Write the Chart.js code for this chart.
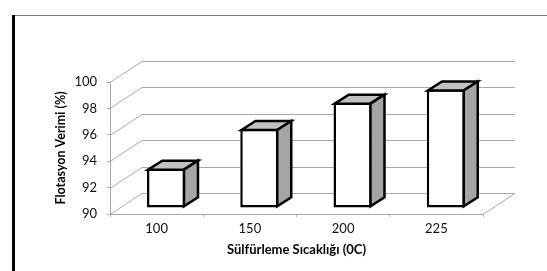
<!DOCTYPE html>
<html>
<head>
<meta charset="utf-8">
<script src="https://cdn.jsdelivr.net/npm/chart.js@4/dist/chart.umd.min.js"></script>
<style>
  html, body { margin: 0; padding: 0; background: #fff; }
  #wrap { position: relative; width: 547px; height: 271px; overflow: hidden; }
  #frame-left { position: absolute; left: 12px; top: 15px; width: 3px; height: 256px; background: #000; }
  #frame-top { position: absolute; left: 15px; top: 15px; width: 532px; height: 1px; background: #808080; }
  canvas { position: absolute; left: 0; top: 0; }
</style>
</head>
<body>
<div id="wrap">
  <canvas id="chart" width="547" height="271"></canvas>
  <div id="frame-left"></div>
  <div id="frame-top"></div>
</div>
<script>
const categories = ['100', '150', '200', '225']
const verim = [93, 96, 98, 99]
const yTicks = [90, 92, 94, 96, 98, 100]

const FONT = "Lato, 'Open Sans', sans-serif"
const GRID = '#a9a9a9'
// 3d look: wall depth, bar offset inside the depth, bar depth
const WALL = { dx: 32, dy: 21 }
const SHIFT = { dx: 9.5, dy: -6 }
const BAR = { dx: 14, dy: 9 }

const depth = {
  id: 'depth',
  beforeDatasetsDraw(chart) {
    const { ctx, chartArea: a, scales: { y } } = chart
    ctx.save()
    ctx.strokeStyle = GRID
    ctx.lineWidth = 1
    y.ticks.forEach(t => {
      const py = Math.round(y.getPixelForValue(t.value)) + 0.5
      ctx.beginPath()
      ctx.moveTo(a.left, py)
      ctx.lineTo(a.left + WALL.dx, py - WALL.dy)
      ctx.lineTo(a.right + WALL.dx, py - WALL.dy)
      ctx.stroke()
    })
    // floor, right edge
    ctx.beginPath()
    ctx.moveTo(a.right, a.bottom + 0.5)
    ctx.lineTo(a.right + WALL.dx, a.bottom + 0.5 - WALL.dy)
    ctx.stroke()
    ctx.restore()

    ctx.save()
    ctx.translate(SHIFT.dx, SHIFT.dy)
  },
  afterDatasetsDraw(chart) {
    const { ctx } = chart
    const meta = chart.getDatasetMeta(0)
    ctx.lineWidth = 2.5
    ctx.strokeStyle = '#000'
    ctx.lineJoin = 'miter'
    meta.data.forEach(bar => {
      const { x, y, base, width } = bar.getProps(['x', 'y', 'base', 'width'], true)
      const l = x - width / 2 + 1.25, r = x + width / 2 - 1.25, t = y + 1.25, b = base - 1.25
      // top face
      ctx.beginPath()
      ctx.moveTo(l, t)
      ctx.lineTo(l + BAR.dx, t - BAR.dy)
      ctx.lineTo(r + BAR.dx, t - BAR.dy)
      ctx.lineTo(r, t)
      ctx.closePath()
      ctx.fillStyle = '#c0c0c0'
      ctx.fill()
      ctx.stroke()
      // side face
      ctx.beginPath()
      ctx.moveTo(r, t)
      ctx.lineTo(r + BAR.dx, t - BAR.dy)
      ctx.lineTo(r + BAR.dx, b - BAR.dy)
      ctx.lineTo(r, b)
      ctx.closePath()
      ctx.fillStyle = '#a5a5a5'
      ctx.fill()
      ctx.stroke()
    })
    ctx.restore()
  },
}

new Chart(document.getElementById('chart'), {
  type: 'bar',
  data: {
    labels: categories,
    datasets: [{
      data: verim,
      base: yTicks[0],
      backgroundColor: '#fff',
      borderColor: '#000',
      borderWidth: 2.5,
      borderSkipped: false,
      barPercentage: 0.41,
      categoryPercentage: 1,
      clip: false,
    }],
  },
  options: {
    responsive: false,
    animation: false,
    events: [],
    layout: { padding: { left: 0, right: 64, top: 82, bottom: 0 } },
    plugins: { legend: { display: false }, tooltip: { enabled: false } },
    scales: {
      x: {
        afterFit: s => { s.height = 57 },
        grid: { offset: true, drawOnChartArea: false, tickLength: 3, color: GRID },
        border: { color: GRID },
        ticks: { color: '#111', padding: 4, font: { family: FONT, size: 13 } },
        title: {
          display: true,
          text: 'Sülfürleme Sıcaklığı (0C)',
          color: '#000',
          padding: { top: 0, bottom: 13 },
          font: { family: FONT, size: 13, weight: 'bold' },
        },
      },
      y: {
        min: yTicks[0],
        max: yTicks[yTicks.length - 1],
        afterFit: s => { s.width = 110 },
        grid: { drawOnChartArea: false, tickLength: 3, color: GRID },
        border: { color: GRID },
        ticks: { stepSize: yTicks[1] - yTicks[0], color: '#111', padding: 10, font: { family: FONT, size: 13 } },
        title: {
          display: true,
          text: 'Flotasyon Verimi (%)',
          color: '#000',
          padding: { top: 53, bottom: 0 },
          font: { family: FONT, size: 12.5, weight: 'bold' },
        },
      },
    },
  },
  plugins: [depth],
})
</script>
</body>
</html>
